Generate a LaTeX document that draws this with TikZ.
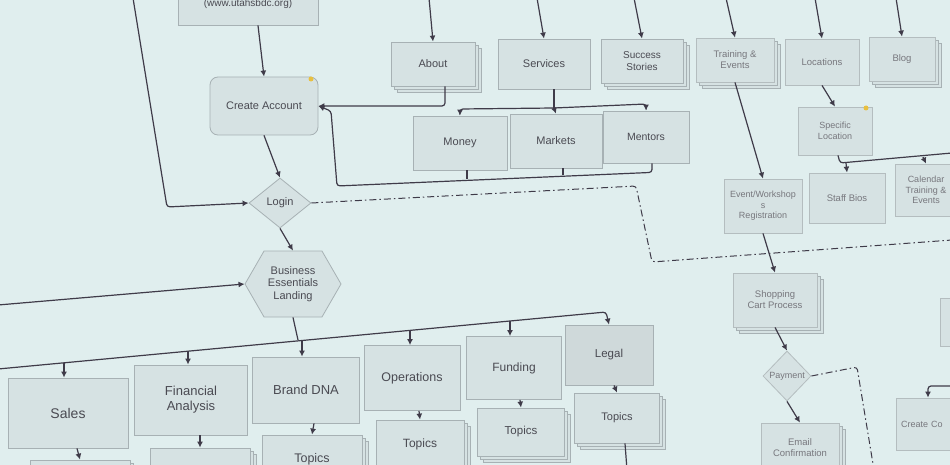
\documentclass[tikz,border=0pt]{standalone}
\usepackage{fontspec}
\setmainfont{Liberation Sans}
\usetikzlibrary{arrows.meta,shapes.geometric,shapes.symbols,shadows}
\definecolor{bg}{HTML}{E0EEEE}
\definecolor{boxfill}{HTML}{D6E2E3}
\definecolor{boxdraw}{HTML}{A7B1B4}
\definecolor{txt}{HTML}{4A4A52}
\definecolor{lin}{HTML}{3F3B49}
\definecolor{legalfill}{HTML}{CFD9DA}
\definecolor{dot}{HTML}{E8C040}
\begin{document}
\begin{tikzpicture}[x=1pt,y=-1pt,
  fs/.style 2 args={font=\fontsize{#1}{#2}\selectfont},
  wh/.style 2 args={minimum width=#1,minimum height=#2},
  box/.style={draw=boxdraw,fill=boxfill,line width=0.8pt,text=txt,align=center,inner sep=2pt},
  stack/.style={box,double copy shadow={shadow xshift=3pt,shadow yshift=-3pt,draw=boxdraw,fill=boxfill,line width=0.8pt}},
  far/.style={text=txt!75,draw=boxdraw!85},
  con/.style={draw=lin,line width=1.2pt,-{Latex[length=6pt,width=6pt]},rounded corners=3pt},
  ln/.style={draw=lin,line width=1.2pt,rounded corners=3pt},
  dd/.style={draw=lin,line width=1pt,dash pattern=on 7pt off 3pt on 1.5pt off 3pt,rounded corners=3pt},
]
\useasboundingbox (0,0) rectangle (950,465);
\fill[bg] (0,0) rectangle (950,465);
\clip (0,0) rectangle (950,465);

% ---- left column
\node[box,wh={140}{42},fs={10}{12}] (url) at (248,4) {(www.utahsbdc.org)};
\node[box,rounded corners=8pt,wh={108}{58},fs={11}{13}] (create) at (264,106) {Create Account};
\fill[dot] (311,79) circle (2.5);
\node[box,diamond,wh={62}{50},inner sep=0pt,fs={11}{13}] (login) at (280,203) {Login};
\node[box,signal,signal to=east and west,signal pointer angle=120,wh={96}{66},inner sep=1pt,fs={11}{12.5}] (land) at (293,284) {Business\\Essentials\\Landing};

% ---- top row
\node[stack,wh={84}{44},fs={11}{13}] (about) at (433,64) {About};
\node[box,wh={92}{50},fs={11}{13}] (services) at (544,64) {Services};
\node[stack,wh={82}{44},fs={10}{11.5}] (success) at (642,61) {Success\\Stories};
\node[stack,far,wh={78}{44},fs={9.5}{11}] (training) at (735,60) {Training \&\\Events};
\node[box,far,wh={74}{46},fs={9.5}{11}] (locations) at (822,62) {Locations};
\node[stack,far,wh={66}{44},fs={9.5}{11}] (blog) at (902,59) {Blog};

% ---- services children
\node[box,wh={94}{54},fs={11}{13}] (money) at (460,143) {Money};
\node[box,wh={92}{54},fs={11}{13}] (markets) at (556,141) {Markets};
\node[box,wh={86}{52},fs={10.5}{12}] (mentors) at (646,137) {Mentors};

% ---- right side
\node[box,far,wh={74}{48},fs={9}{10.5}] (specloc) at (835,131) {Specific\\Location};
\fill[dot] (866,108) circle (2.5);
\node[box,far,wh={78}{54},fs={9}{10.5}] (eventreg) at (763,206) {Event/Workshop\\s\\Registration};
\node[box,far,wh={76}{50},fs={9.5}{11}] (staff) at (847,198) {Staff Bios};
\node[box,far,wh={62}{52},fs={9}{10.5}] (calendar) at (926,190) {Calendar\\Training \&\\Events};
\node[stack,far,wh={84}{54},fs={9.5}{11}] (cart) at (775,300) {Shopping\\Cart Process};
\node[box,far,diamond,minimum width=48pt,minimum height=50pt,inner sep=0pt,fs={9}{10.5}] (payment) at (787,376) {Payment};
\node[stack,far,wh={78}{50},fs={9.5}{11}] (email) at (800,448) {Email\\Confirmation};
\node[box,far,wh={80}{52},text width=70pt,align=left,fs={9}{10.5}] (createco) at (936,424) {Create Co};
\node[box,far,wh={44}{48}] (edge) at (962,322) {};

% ---- bottom row
\node[box,wh={120}{70},fs={14}{16}] (sales) at (68,413) {Sales};
\node[box,wh={113}{70},fs={13}{15}] (fin) at (191,400) {Financial\\Analysis};
\node[box,wh={107}{66},fs={13}{15}] (brand) at (306,390) {Brand DNA};
\node[box,wh={96}{65},fs={12.5}{14}] (ops) at (412,378) {Operations};
\node[box,wh={95}{63},fs={12}{14}] (fund) at (514,368) {Funding};
\node[box,fill=legalfill,wh={88}{60},fs={11.5}{13}] (legal) at (609,355) {Legal};

\node[stack,wh={100}{40}] (t1) at (80,480) {};
\node[stack,wh={100}{44}] (t2) at (200,470) {};
\node[stack,wh={100}{48},fs={12.5}{14}] (t3) at (312,459) {Topics};
\node[stack,wh={88}{48},fs={12}{14}] (t4) at (420,444) {Topics};
\node[stack,wh={87}{48},fs={11.5}{13}] (t5) at (521,432) {Topics};
\node[stack,wh={85}{50},fs={11}{13}] (t6) at (617,418) {Topics};

% ---- coordinates for free ends and bends
\coordinate (topL) at (133,-2);
\coordinate (cornL) at (167,207);
\coordinate (leftB) at (-2,305);
\coordinate (dd1) at (636,186);
\coordinate (dd2) at (652,262);
\coordinate (dd3) at (952,240);
\coordinate (tA) at (429,-2);
\coordinate (tS) at (537,-2);
\coordinate (tSS) at (634,-2);
\coordinate (tT) at (726,-2);
\coordinate (tL) at (815,-2);
\coordinate (tB) at (896,-2);
\coordinate (sv) at (554,108);
\coordinate (svL) at (460,109);
\coordinate (svR) at (646,104);
\coordinate (bl) at (337,186);
\coordinate (bl2) at (331,111);
\coordinate (sl1) at (840,163);
\coordinate (slS) at (846,163);
\coordinate (slC) at (923,157);
\coordinate (sl2) at (952,153);
\coordinate (pd1) at (857,367);
\coordinate (pd2) at (874,470);
\coordinate (cc1) at (952,386);
\coordinate (tr0) at (-2,369);
\coordinate (trJ) at (298,340);
\coordinate (trE) at (606,312);
\coordinate (b1) at (64,363);
\coordinate (b2) at (188,351);
\coordinate (b3) at (302,340.5);
\coordinate (b4) at (410,330.5);
\coordinate (b5) at (510,321);
\coordinate (t6end) at (627,470);

% ---- connectors left
\draw[con] ([xshift=10pt]url.south) -- (create.north);
\draw[con] (create.south) -- (login.north);
\draw[con] (topL) -- (cornL) -- (login.west);
\draw[con] (login.south) -- (land.north);
\draw[con] (leftB) -- (land.west);
\draw[dd] (login.east) -- (dd1) -- (dd2) -- (dd3);

% ---- top inputs
\draw[con] (tA) -- (about.north);
\draw[con] (tS) -- (services.north);
\draw[con] (tSS) -- (success.north);
\draw[con] (tT) -- (training.north);
\draw[con] (tL) -- (locations.north);
\draw[con] (tB) -- (blog.north);

% ---- about / services loops
\draw[con] ([xshift=12pt]about.south) |- (create.east);
\draw[ln] ([xshift=10pt]services.south) -- (sv);
\draw[con] (sv) -- (svL) -- (money.north);
\draw[con] (sv) -- (svR) -- (mentors.north);
\draw[con] (sv) -- (markets.north);
\draw[con] ([xshift=6pt]mentors.south) -- ++(0,9) -- (bl) -- (bl2) -- (create.east);
\draw[ln] ([xshift=7pt]money.south) -- ++(0,9);
\draw[ln] ([xshift=7pt]markets.south) -- ++(0,7);

% ---- right side connectors
\draw[con] (training.south) -- (eventreg.north);
\draw[con] (eventreg.south) -- (cart.north);
\draw[con] (cart.south) -- (payment.north);
\draw[con] (payment.south) -- (email.north);
\draw[dd] (payment.east) -- (pd1) -- (pd2);
\draw[con] (locations.south) -- (specloc.north);
\draw[ln] ([xshift=3pt]specloc.south) -- (sl1) -- (sl2);
\draw[con] (slS) -- (staff.north);
\draw[con] (slC) -- (calendar.north);
\draw[con] (cc1) -| ([xshift=-8pt]createco.north);

% ---- landing trunk
\draw[ln] (land.south) -- (trJ);
\draw[con] (tr0) -- (trE) -- (legal.north);
\draw[con] (b1) -- (b1 |- sales.north);
\draw[con] (b2) -- (b2 |- fin.north);
\draw[con] (b3) -- (b3 |- brand.north);
\draw[con] (b4) -- (b4 |- ops.north);
\draw[con] (b5) -- (b5 |- fund.north);

% ---- to topics
\draw[con] ([xshift=9pt]sales.south) -- (t1.north);
\draw[con] ([xshift=9pt]fin.south) -- (t2.north);
\draw[con] ([xshift=8pt]brand.south) -- (t3.north);
\draw[con] ([xshift=7pt]ops.south) -- (t4.north);
\draw[con] ([xshift=6pt]fund.south) -- (t5.north);
\draw[con] ([xshift=5pt]legal.south) -- (t6.north);
\draw[ln] ([xshift=8pt]t6.south) -- (t6end);
\end{tikzpicture}
\end{document}
